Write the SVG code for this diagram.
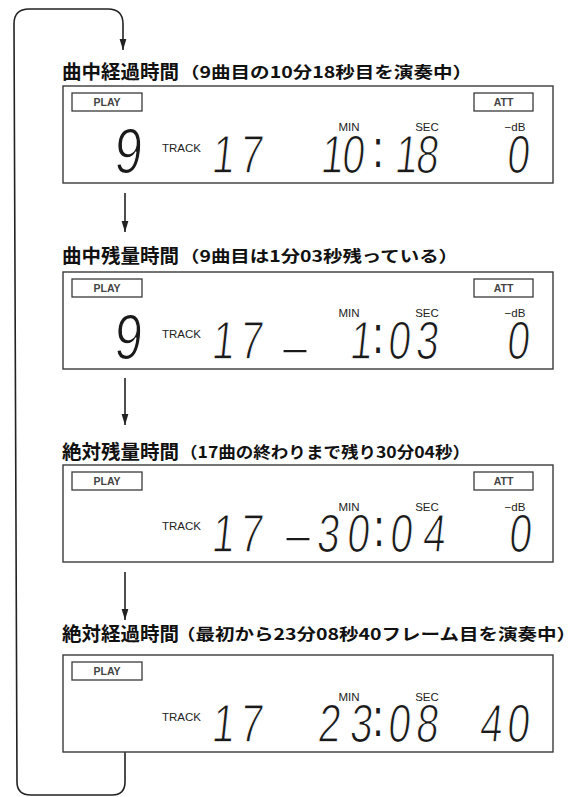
<svg xmlns="http://www.w3.org/2000/svg" width="573" height="797" viewBox="0 0 573 797">
<defs>
<marker id="ah" markerUnits="userSpaceOnUse" markerWidth="12" markerHeight="8" refX="11" refY="4" orient="auto" viewBox="0 0 12 8">
<path d="M0 0.6 L11 4 L0 7.4 Z" fill="#222"/>
</marker>
<style>
.panel{fill:#fff;stroke:#3a3a3a;stroke-width:1.4}
.tag{fill:#fff;stroke:#3a3a3a;stroke-width:1.3}
.tagt{font-family:"Liberation Sans",Arial,sans-serif;font-size:10.5px;font-weight:bold;fill:#444;text-anchor:middle}
.lbl{font-family:"Liberation Sans",Arial,sans-serif;font-size:11.5px;fill:#222;text-anchor:middle}
.trk{font-family:"Liberation Sans",Arial,sans-serif;font-size:11.5px;fill:#222}
.d{font-family:"Liberation Sans",Arial,sans-serif;font-size:54px;fill:#1a1a1a;stroke:#fff;stroke-width:1.3;text-anchor:middle}
.c{font-family:"Liberation Sans",Arial,sans-serif;font-size:38px;fill:#1a1a1a;text-anchor:middle}
.big{font-family:"Liberation Sans",Arial,sans-serif;font-size:64px;fill:#1a1a1a;stroke:#fff;stroke-width:1.3;text-anchor:middle}
.h{font-family:"Noto Sans CJK JP",sans-serif;font-size:19.5px;font-weight:bold;fill:#111}
.s{font-family:"Noto Sans CJK JP",sans-serif;font-size:16px;font-weight:bold;fill:#111}
.con{fill:none;stroke:#222;stroke-width:1.6}
</style>
</defs>

<g id="connectors">
<path class="con" d="M125 752 V782 Q125 795 112 795 H31 Q17 795 17 782 L14 24 Q14 9 29 9 H108 Q123 9 123 24 V50" marker-end="url(#ah)"/>
<path class="con" d="M125 193 V232" marker-end="url(#ah)"/>
<path class="con" d="M125 378 V425" marker-end="url(#ah)"/>
<path class="con" d="M125 572 V620" marker-end="url(#ah)"/>
</g>

<g id="heading1">
<text class="h" x="62" y="79">曲中経過時間</text>
<text class="s" x="180" y="78" textLength="292" lengthAdjust="spacingAndGlyphs">（9曲目の10分18秒目を演奏中）</text>
</g>
<g id="panel1">
<rect class="panel" x="63" y="86" width="490" height="97"/>
<rect class="tag" x="72" y="93" width="70" height="18"/>
<text class="tagt" x="107" y="106">PLAY</text>
<rect class="tag" x="474" y="93" width="59" height="18"/>
<text class="tagt" x="503.5" y="106">ATT</text>
<text class="big" transform="translate(127 173) skewX(-5) scale(0.78 1)">9</text>
<text class="trk" x="162" y="152">TRACK</text>
<text class="lbl" x="349" y="131">MIN</text>
<text class="lbl" x="427" y="131">SEC</text>
<text class="lbl" x="515" y="131">−dB</text>
<g transform="translate(0 173)">
<text class="d" transform="translate(222 0) skewX(-6) scale(0.75 1)">1</text>
<text class="d" transform="translate(250 0) skewX(-6) scale(0.75 1)">7</text>
<text class="d" transform="translate(331 0) skewX(-6) scale(0.75 1)">1</text>
<text class="d" transform="translate(352 0) skewX(-6) scale(0.75 1)">0</text>
<text class="c" transform="translate(378 -6) scale(1 1.4)">:</text>
<text class="d" transform="translate(405 0) skewX(-6) scale(0.75 1)">1</text>
<text class="d" transform="translate(426 0) skewX(-6) scale(0.75 1)">8</text>
<text class="d" transform="translate(517 0) skewX(-6) scale(0.75 1)">0</text>
</g>
</g>

<g id="heading2">
<text class="h" x="62" y="263">曲中残量時間</text>
<text class="s" x="180" y="262" textLength="278" lengthAdjust="spacingAndGlyphs">（9曲目は1分03秒残っている）</text>
</g>
<g id="panel2">
<rect class="panel" x="63" y="272" width="490" height="97"/>
<rect class="tag" x="72" y="279" width="70" height="18"/>
<text class="tagt" x="107" y="292">PLAY</text>
<rect class="tag" x="474" y="279" width="59" height="18"/>
<text class="tagt" x="503.5" y="292">ATT</text>
<text class="big" transform="translate(127 359) skewX(-5) scale(0.78 1)">9</text>
<text class="trk" x="162" y="338">TRACK</text>
<text class="lbl" x="349" y="317">MIN</text>
<text class="lbl" x="427" y="317">SEC</text>
<text class="lbl" x="515" y="317">−dB</text>
<g transform="translate(0 359)">
<text class="d" transform="translate(222 0) skewX(-6) scale(0.75 1)">1</text>
<text class="d" transform="translate(250 0) skewX(-6) scale(0.75 1)">7</text>
<text class="d" transform="translate(295 6) scale(0.8 1)">–</text>
<text class="d" transform="translate(360 0) skewX(-6) scale(0.75 1)">1</text>
<text class="c" transform="translate(378 -6) scale(1 1.4)">:</text>
<text class="d" transform="translate(398 0) skewX(-6) scale(0.75 1)">0</text>
<text class="d" transform="translate(426 0) skewX(-6) scale(0.75 1)">3</text>
<text class="d" transform="translate(517 0) skewX(-6) scale(0.75 1)">0</text>
</g>
</g>

<g id="heading3">
<text class="h" x="62" y="459">絶対残量時間</text>
<text class="s" x="180" y="458" textLength="290" lengthAdjust="spacingAndGlyphs">（17曲の終わりまで残り30分04秒）</text>
</g>
<g id="panel3">
<rect class="panel" x="63" y="465" width="490" height="97"/>
<rect class="tag" x="72" y="472" width="70" height="18"/>
<text class="tagt" x="107" y="485">PLAY</text>
<rect class="tag" x="474" y="472" width="59" height="18"/>
<text class="tagt" x="503.5" y="485">ATT</text>
<text class="trk" x="162" y="530">TRACK</text>
<text class="lbl" x="349" y="511">MIN</text>
<text class="lbl" x="427" y="511">SEC</text>
<text class="lbl" x="515" y="511">−dB</text>
<g transform="translate(0 552)">
<text class="d" transform="translate(222 0) skewX(-6) scale(0.75 1)">1</text>
<text class="d" transform="translate(250 0) skewX(-6) scale(0.75 1)">7</text>
<text class="d" transform="translate(298 1) scale(0.8 1)">–</text>
<text class="d" transform="translate(327 0) skewX(-6) scale(0.75 1)">3</text>
<text class="d" transform="translate(357 0) skewX(-6) scale(0.75 1)">0</text>
<text class="c" transform="translate(379 -6) scale(1 1.4)">:</text>
<text class="d" transform="translate(400 0) skewX(-6) scale(0.75 1)">0</text>
<text class="d" transform="translate(433 0) skewX(-6) scale(0.75 1)">4</text>
<text class="d" transform="translate(519 0) skewX(-6) scale(0.75 1)">0</text>
</g>
</g>

<g id="heading4">
<text class="h" x="62" y="641">絶対経過時間</text>
<text class="s" x="176" y="640" textLength="400" lengthAdjust="spacingAndGlyphs">（最初から23分08秒40フレーム目を演奏中）</text>
</g>
<g id="panel4">
<rect class="panel" x="63" y="655" width="490" height="97"/>
<rect class="tag" x="72" y="662" width="70" height="18"/>
<text class="tagt" x="107" y="675">PLAY</text>
<text class="trk" x="162" y="721">TRACK</text>
<text class="lbl" x="349" y="701">MIN</text>
<text class="lbl" x="427" y="701">SEC</text>
<g transform="translate(0 742)">
<text class="d" transform="translate(222 0) skewX(-6) scale(0.75 1)">1</text>
<text class="d" transform="translate(250 0) skewX(-6) scale(0.75 1)">7</text>
<text class="d" transform="translate(328 0) skewX(-6) scale(0.75 1)">2</text>
<text class="d" transform="translate(360 0) skewX(-6) scale(0.75 1)">3</text>
<text class="c" transform="translate(378 -6) scale(1 1.4)">:</text>
<text class="d" transform="translate(398 0) skewX(-6) scale(0.75 1)">0</text>
<text class="d" transform="translate(426 0) skewX(-6) scale(0.75 1)">8</text>
<text class="d" transform="translate(490 0) skewX(-6) scale(0.75 1)">4</text>
<text class="d" transform="translate(517 0) skewX(-6) scale(0.75 1)">0</text>
</g>
</g>
</svg>
